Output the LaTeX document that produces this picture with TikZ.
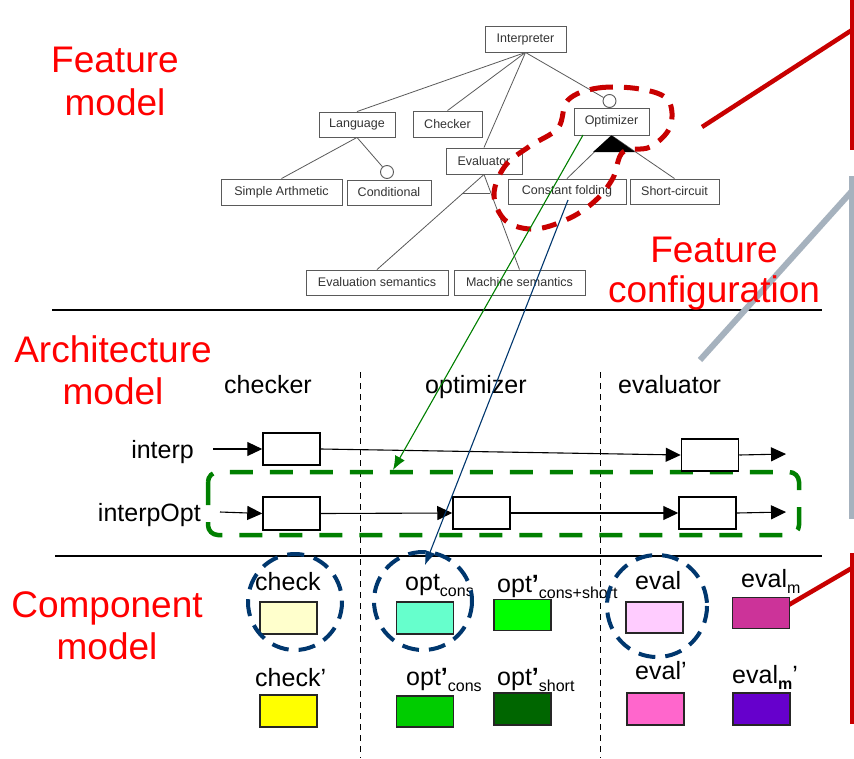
\documentclass[tikz,border=0pt]{standalone}
\usepackage{fontspec}
\setmainfont{Liberation Sans}
\usepackage{graphicx}
\usetikzlibrary{arrows.meta}
\definecolor{labred}{RGB}{255,0,0}
\definecolor{barred}{RGB}{200,0,0}
\definecolor{bargray}{RGB}{166,178,190}
\definecolor{fmline}{RGB}{90,90,90}
\definecolor{dgreen}{RGB}{0,128,0}
\definecolor{dblue}{RGB}{0,55,110}
\definecolor{cCheck}{RGB}{255,255,204}
\definecolor{cOptCons}{RGB}{102,255,204}
\definecolor{cOptCS}{RGB}{0,255,0}
\definecolor{cEval}{RGB}{255,204,255}
\definecolor{cEvalM}{RGB}{204,51,153}
\definecolor{cCheckP}{RGB}{255,255,0}
\definecolor{cOptConsP}{RGB}{0,204,0}
\definecolor{cOptShortP}{RGB}{0,102,0}
\definecolor{cEvalP}{RGB}{255,102,204}
\definecolor{cEvalMP}{RGB}{102,0,204}
\newcommand\sbs[1]{\raisebox{-6pt}{\fontsize{16}{16}\selectfont #1}}
\newcommand\pr{\textbf{’}}
\tikzset{
  fbox/.style={draw=fmline, line width=0.9pt, inner sep=0pt, font=\fontsize{12.5}{13}\selectfont, text=black!80},
  fline/.style={draw=fmline, line width=0.8pt},
  redlab/.style={text=labred, font=\fontsize{37}{37}\selectfont, anchor=base, inner sep=0pt},
  blab/.style={font=\fontsize{25}{25}\selectfont, inner sep=0pt},
  abox/.style={draw, line width=1.5pt, fill=white, minimum width=57pt, minimum height=32pt, inner sep=0pt},
  cbox/.style={draw=black!85, line width=1.4pt, minimum width=57pt, minimum height=31pt, inner sep=0pt},
  arr/.style={line width=1.1pt, -{Triangle[length=15pt,width=14pt]}},
  sep/.style={line width=1.1pt},
  vdash/.style={line width=0.8pt, dash pattern=on 6pt off 5pt},
  bar/.style={line width=4.5pt},
}
\begin{document}
\begin{tikzpicture}[x=1pt,y=-1pt]
\useasboundingbox (0,0) rectangle (854,758);
\fill[white] (0,0) rectangle (854,758);

% ---------- Feature model ----------
\node[fbox, minimum width=81pt, minimum height=26pt] (interp) at (525.5,39) {Interpreter};
\node[fbox, minimum width=76pt, minimum height=25pt] (lang) at (357,124.5) {Language};
\node[fbox, minimum width=69pt, minimum height=26pt] (checker) at (447.5,124) {Checker};
\node[fbox, minimum width=75pt, minimum height=27pt] (opt) at (611.5,121.5) {Optimizer};
\node[fbox, minimum width=76pt, minimum height=26pt] (evalr) at (484,161) {Evaluator};
\node[fbox, minimum width=121pt, minimum height=26pt] (simple) at (281.5,192) {Simple Arthmetic};
\node[fbox, minimum width=84pt, minimum height=25pt] (cond) at (389,192.5) {Conditional};
\node[fbox, minimum width=118pt, minimum height=25pt] (cfold) at (567,191.5) {Constant folding};
\node[fbox, minimum width=89pt, minimum height=25pt] (short) at (674.5,191.5) {Short-circuit};
\node[fbox, minimum width=142pt, minimum height=25pt] (evsem) at (377,282.5) {Evaluation semantics};
\node[fbox, minimum width=131pt, minimum height=25pt] (masem) at (519.5,282.5) {Machine semantics};

\node[draw=fmline, line width=0.9pt, circle, minimum size=13pt, inner sep=0pt, fill=white] (optc) at (609.5,101) {};
\node[draw=fmline, line width=0.9pt, circle, minimum size=13pt, inner sep=0pt, fill=white] (condc) at (387,172) {};

\draw[fline] (interp.south) -- (lang.north);
\draw[fline] (interp.south) -- (checker.north);
\draw[fline] (interp.south) -- (evalr.north);
\draw[fline] (interp.south) -- (optc);
\draw[fline] (lang.south) -- (simple.north);
\draw[fline] (lang.south) -- (condc);
\draw[fline] (evalr.south) -- (evsem.north);
\draw[fline] (evalr.south) -- (masem.north);
\draw[fline] (462,193) -- (490,193);
\draw[fline] (opt.south) -- (cfold.north);
\draw[fline] (opt.south) -- (short.north);
\fill[black] (opt.south) -- (593,152) -- (635,152) -- cycle;

% red dashed selection
\draw[barred, line width=5pt, dash pattern=on 15pt off 11pt, line join=round]
  plot[smooth cycle, tension=0.6] coordinates {(568,100) (598,88) (640,89) (668,100) (670,127) (650,147) (623,152) (613,178) (596,200) (570,218) (535,229) (506,221) (494,195) (505,166) (530,146) (558,128)};

% ---------- separators ----------
\draw[sep] (52,310) -- (822,310);
\draw[sep] (55,556) -- (822,556);
\draw[vdash] (360,372) -- (360,758);
\draw[vdash] (600,372) -- (600,758);

% ---------- red/gray bars ----------
\draw[bar, barred] (852,0) -- (852,150);
\draw[bar, barred] (702,127) -- (852,30);
\draw[bar, bargray, line width=6pt] (852,176) -- (852,519);
\draw[bar, bargray, line width=6pt] (700,360) -- (852,191);
\draw[bar, barred] (852,553) -- (852,724);
\draw[bar, barred] (780,610) -- (852,568);

% ---------- labels ----------
\node[redlab] (fm1) at (115,72) {Feature};
\node[redlab] (fm2) at (115,115) {model};
\node[redlab] (fc1) at (714,262) {Feature};
\node[redlab] (fc2) at (714,302) {configuration};
\node[redlab] (am1) at (113,362) {Architecture};
\node[redlab] (am2) at (113,404) {model};
\node[redlab] (cm1) at (107,617) {Component};
\node[redlab] (cm2) at (107,659) {model};

% ---------- Architecture model ----------
\node[blab, anchor=base west] (tchk) at (224,393) {checker};
\node[blab, anchor=base west] (topt) at (425,393) {optimizer};
\node[blab, anchor=base west] (tev) at (618,393) {evaluator};
\node[blab, anchor=base east] (tinterp) at (194,458) {interp};
\node[blab, anchor=base east] (tinterpo) at (201,521) {interpOpt};

\draw[dgreen, line width=4.5pt, dash pattern=on 23pt off 17pt, rounded corners=10pt] (208,472) rectangle (799,535);

\node[abox] (i1) at (291.5,449) {};
\node[abox] (i2) at (710,455) {};
\node[abox, minimum height=33pt] (o1) at (291.5,513.5) {};
\node[abox] (o2) at (481.5,513) {};
\node[abox] (o3) at (707.5,513) {};
\coordinate (iin) at (213,449);
\coordinate (iout) at (786,454);
\coordinate (oin) at (220,512);
\coordinate (oout) at (786,512);
\draw[arr] (iin) -- (i1.west);
\draw[arr] (i1.east) -- (i2.west);
\draw[arr] (i2.east) -- (iout);
\draw[arr] (oin) -- (o1.west);
\draw[arr] (o1.east) -- (o2.west);
\draw[arr] (o2.east) -- (o3.west);
\draw[arr] (o3.east) -- (oout);

% ---------- Component model ----------
\node[cbox, fill=cCheck, minimum height=32pt] (c1) at (288.5,618) {};
\node[cbox, fill=cOptCons, minimum height=32pt] (c2) at (425,618) {};
\node[cbox, fill=cOptCS] (c3) at (522.5,615) {};
\node[cbox, fill=cEval] (c4) at (654.5,617.5) {};
\node[cbox, fill=cEvalM] (c5) at (761,613) {};
\node[cbox, fill=cCheckP, minimum height=32pt] (c6) at (288.5,711) {};
\node[cbox, fill=cOptConsP] (c7) at (425,711.5) {};
\node[cbox, fill=cOptShortP, minimum height=32pt] (c8) at (522.5,709) {};
\node[cbox, fill=cEvalP, minimum height=32pt] (c9) at (655.5,709) {};
\node[cbox, fill=cEvalMP, minimum height=32pt] (c10) at (761.5,709) {};

\node[blab, anchor=base west] (l1) at (255,590) {check};
\node[blab, anchor=base west] (l2) at (405,590) {opt\sbs{cons}};
\node[blab, anchor=base west] (l3) at (497,592) {opt\pr\sbs{cons+short}};
\node[blab, anchor=base west] (l4) at (635,589) {eval};
\node[blab, anchor=base west] (l5) at (741,587) {eval\sbs{m}};
\node[blab, anchor=base west] (l6) at (255,686) {check’};
\node[blab, anchor=base west] (l7) at (406,685) {opt\pr\sbs{cons}};
\node[blab, anchor=base west] (l8) at (497,685) {opt\pr\sbs{short}};
\node[blab, anchor=base west] (l9) at (635,679) {eval’};
\node[blab, anchor=base west] (l10) at (732,683) {eval\sbs{\textbf{m}}’};

% blue dashed circles
\draw[dblue, line width=4pt, dash pattern=on 17pt off 10pt] (295,602) ellipse [x radius=47, y radius=48];
\draw[dblue, line width=4pt, dash pattern=on 17pt off 10pt] (423,601) ellipse [x radius=49, y radius=49];
\draw[dblue, line width=4pt, dash pattern=on 17pt off 10pt] (657,606) ellipse [x radius=50, y radius=51];

% ---------- configuration arrows ----------
\coordinate (gstart) at (583,135);
\coordinate (gend) at (393,470);
\coordinate (bstart) at (568,200);
\coordinate (bend) at (425,565);
\draw[dgreen, line width=1.1pt, -{Latex[length=14pt,width=11pt]}] (gstart) -- (gend);
\draw[dblue, line width=1.1pt, -{Latex[length=14pt,width=11pt]}] (bstart) -- (bend);
\end{tikzpicture}
\end{document}
